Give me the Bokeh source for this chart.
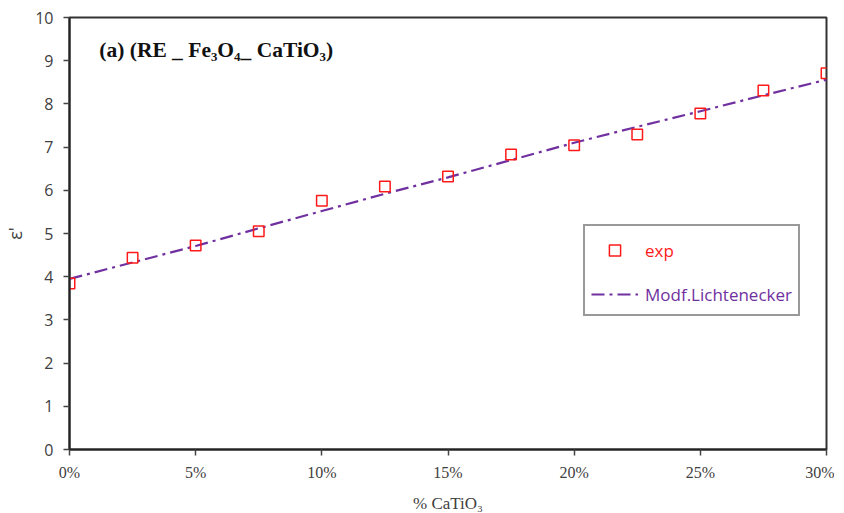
from bokeh.plotting import figure
from bokeh.models import Legend, LegendItem, Label, NumeralTickFormatter, FixedTicker, Range1d
from bokeh.embed import file_html
from bokeh.resources import INLINE

# data
x_frac = [0.0, 0.025, 0.05, 0.075, 0.10, 0.125, 0.15, 0.175, 0.20, 0.225, 0.25, 0.275, 0.30]
eps_exp = [3.84, 4.44, 4.72, 5.05, 5.76, 6.09, 6.32, 6.83, 7.04, 7.29, 7.78, 8.31, 8.71]
eps_model = [3.95, 4.33, 4.71, 5.12, 5.52, 5.92, 6.30, 6.70, 7.10, 7.47, 7.83, 8.20, 8.56]
x_ticks = [0.0, 0.05, 0.10, 0.15, 0.20, 0.25, 0.30]
y_ticks = [0, 1, 2, 3, 4, 5, 6, 7, 8, 9, 10]

RED = "#ff1a1a"
PURPLE = "#7030a0"

p = figure(frame_width=757, frame_height=432, output_backend="svg", toolbar_location=None,
           x_range=Range1d(0, 0.30), y_range=Range1d(0, 10),
           min_border_left=61, min_border_top=17, min_border_right=8, min_border_bottom=56)
p.xgrid.visible = False
p.ygrid.visible = False
p.outline_line_color = "#333333"
p.outline_line_width = 2
p.background_fill_color = "white"
p.border_fill_color = "white"

line_r = p.line(x_frac, eps_model, line_color=PURPLE, line_width=2.2, line_dash="13 5 3 5")
pts_r = p.scatter(x_frac, eps_exp, marker="square", size=10.5, fill_alpha=0,
                  line_color=RED, line_width=1.5)
# invisible renderer used only for the legend frame
ghost_r = p.scatter(x_frac[:1], eps_exp[:1], size=0, fill_alpha=0, line_alpha=0)

# axes
p.xaxis.ticker = FixedTicker(ticks=x_ticks)
p.xaxis.formatter = NumeralTickFormatter(format="0%")
p.yaxis.ticker = FixedTicker(ticks=y_ticks)
for ax in (p.xaxis[0], p.yaxis[0]):
    ax.axis_line_color = "#222222"
    ax.axis_line_width = 2
    ax.major_tick_line_color = "#444444"
    ax.major_tick_line_width = 1.5
    ax.major_tick_in = 0
    ax.major_tick_out = 6
    ax.minor_tick_line_color = None
    ax.major_label_text_color = "#404040"
    ax.axis_label_text_font_style = "normal"
    ax.axis_label_text_color = "#404040"

p.xaxis.major_label_text_font = "Liberation Sans Narrow"
p.xaxis.major_label_text_font_size = "16px"
p.xaxis.major_label_standoff = 8
p.xaxis.axis_label = "% CaTiO\u2083"
p.xaxis.axis_label_text_font = "Liberation Serif"
p.xaxis.axis_label_text_font_size = "17px"
p.xaxis.axis_label_standoff = 10

p.yaxis.major_label_text_font = "Open Sans"
p.yaxis.major_label_text_font_size = "16px"
p.yaxis.major_label_standoff = 10
p.yaxis.axis_label = "\u03b5'"
p.yaxis.axis_label_text_font = "Open Sans"
p.yaxis.axis_label_text_font_size = "18px"
p.yaxis.axis_label_standoff = 5

# panel title
p.add_layout(Label(x=0.0118, y=9.25, text="(a) (RE _ Fe\u2083O\u2084_ CaTiO\u2083)",
                   text_font="Liberation Serif", text_font_style="bold",
                   text_font_size="21.5px", text_color="#111111", text_baseline="middle"))

# legend: outer frame (blank labels) + per-colour single-item legends on top
common = dict(padding=8, spacing=16, glyph_height=28, glyph_width=47, label_height=28,
              label_width=143, label_standoff=7, label_text_font="Open Sans",
              label_text_font_size="17px", margin=0)
leg_box = Legend(items=[LegendItem(label=" ", renderers=[ghost_r]),
                        LegendItem(label="  ", renderers=[ghost_r])],
                 location=(514, 133), border_line_color="#333333", border_line_width=2,
                 background_fill_color="white", **common)
leg_exp = Legend(items=[LegendItem(label="exp", renderers=[pts_r])],
                 location=(514, 177), border_line_alpha=0, background_fill_alpha=0,
                 label_text_color=RED, **common)
leg_mod = Legend(items=[LegendItem(label="Modf.Lichtenecker", renderers=[line_r])],
                 location=(514, 133), border_line_alpha=0, background_fill_alpha=0,
                 label_text_color=PURPLE, **common)
for lg in (leg_box, leg_exp, leg_mod):
    p.add_layout(lg, "center")

open("out.html", "w").write(file_html(p, INLINE))
